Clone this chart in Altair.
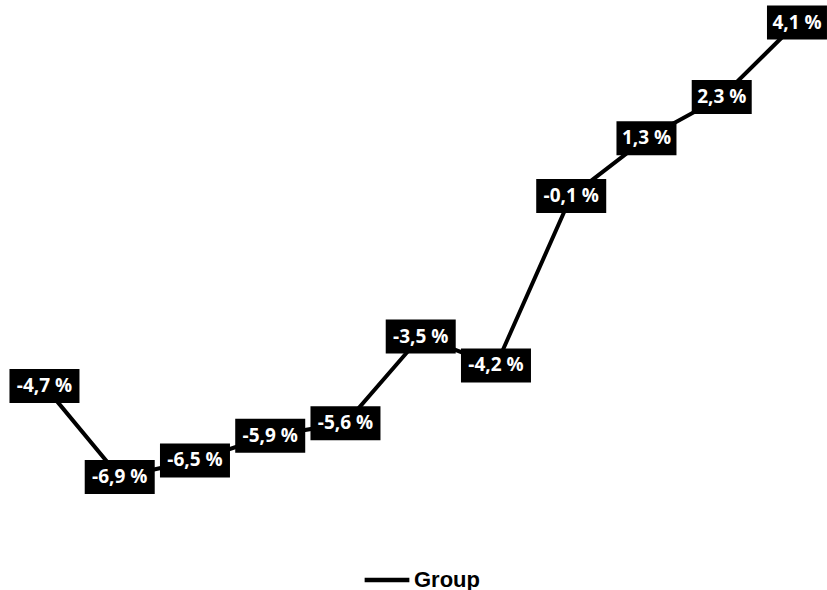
import altair as alt
import pandas as pd

# Series values (percent) in order
values = [-4.7, -6.9, -6.5, -5.9, -5.6, -3.5, -4.2, -0.1, 1.3, 2.3, 4.1]
labels = ["-4,7 %", "-6,9 %", "-6,5 %", "-5,9 %", "-5,6 %", "-3,5 %",
          "-4,2 %", "-0,1 %", "1,3 %", "2,3 %", "4,1 %"]
series_name = "Group"

df = pd.DataFrame({
    "idx": list(range(len(values))),
    "value": values,
    "label": labels,
    "series": [series_name] * len(values),
})

x_enc = alt.X("idx:Q", axis=None, scale=alt.Scale(domain=[-0.591, 10.399], nice=False, zero=False))
y_enc = alt.Y("value:Q", axis=None, scale=alt.Scale(domain=[-9.635, 4.645], nice=False, zero=False))

base = alt.Chart(df)

line = base.mark_line(strokeWidth=4, color="black").encode(
    x=x_enc,
    y=y_enc,
    color=alt.Color(
        "series:N",
        scale=alt.Scale(domain=[series_name], range=["black"]),
        legend=alt.Legend(
            title=None,
            orient="none",
            legendX=362,
            legendY=555,
            symbolType="stroke",
            symbolStrokeWidth=4.5,
            symbolSize=2000,
            labelFont="Liberation Sans",
            labelFontWeight="bold",
            labelFontSize=22,
            labelColor="black",
            labelOffset=2,
        ),
    ),
)

def boxes(cond, half_w):
    return base.transform_filter(cond).mark_rect(
        color="black", xOffset=-half_w, x2Offset=half_w, yOffset=-17, y2Offset=17
    ).encode(x=x_enc, x2="idx:Q", y=y_enc, y2="value:Q")

neg_boxes = boxes("datum.value < 0", 35)
pos_boxes = boxes("datum.value >= 0", 30)

text = base.mark_text(
    color="white", font="Open Sans", fontWeight="bold", fontSize=19, baseline="middle"
).encode(x=x_enc, y=y_enc, text="label:N")

chart = (
    alt.layer(line, neg_boxes, pos_boxes, text)
    .properties(width=827, height=590, padding=0, autosize="none", background="white")
    .configure_view(stroke=None)
)

chart.save("out.html", embed_options={"renderer": "svg", "actions": False})
